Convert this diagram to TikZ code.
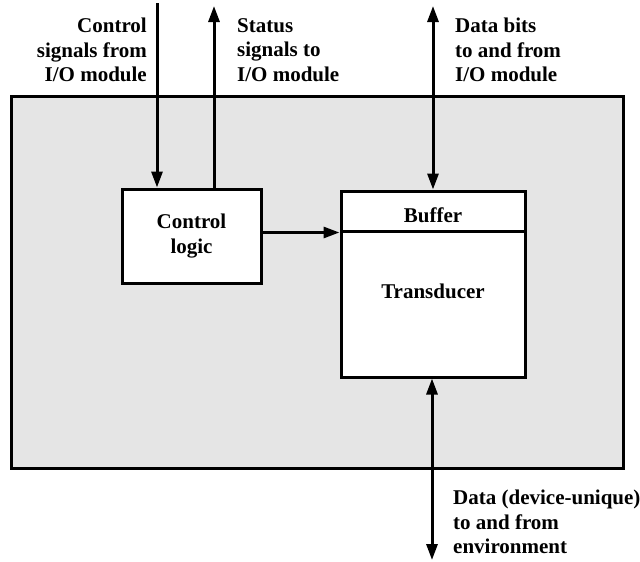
\documentclass[tikz,border=0pt]{standalone}
\usepackage{fontspec}
\setmainfont{Liberation Serif}
\usetikzlibrary{arrows.meta}
\begin{document}
\begin{tikzpicture}[x=1pt,y=-1pt,
  lbl/.style={font=\fontsize{21}{24.5}\selectfont\bfseries, inner sep=0pt},
  boxstyle/.style={draw, line width=3pt, fill=white, inner sep=0pt},
  arr/.style={line width=3pt, -{Triangle[length=16pt,width=11pt]}},
  arrtwo/.style={line width=3pt, {Triangle[length=16pt,width=11pt]}-{Triangle[length=16pt,width=11pt]}}]
\useasboundingbox (0,0) rectangle (640,562);
% outer device frame
\node[draw, line width=3pt, fill=black!10, minimum width=612pt, minimum height=372pt, inner sep=0pt] (frame) at (317,282) {};
% control logic
\node[boxstyle, minimum width=139pt, minimum height=94pt, lbl, align=center] (ctrl) at (191.5,236) {Control\\logic};
% buffer and transducer
\node[boxstyle, minimum width=184pt, minimum height=40pt] (buf) at (433,211) {};
\node[lbl] (buftext) at (433,215) {Buffer};
\node[boxstyle, minimum width=184pt, minimum height=146pt] (trans) at (433,304) {};
\node[lbl] (transtext) at (433,291) {Transducer};
% free ends
\coordinate (cin) at (157,3);
\coordinate (sout) at (214,6);
\coordinate (dtop) at (433,6);
\coordinate (dbot) at (432,560);
% connectors
\draw[arr] (cin) -- (cin |- ctrl.north);
\draw[arr] (ctrl.north -| sout) -- (sout);
\draw[arrtwo] (dtop) -- (dtop |- buf.north);
\draw[arr] (ctrl.east |- buf.south) -- (buf.south west);
\draw[arrtwo] (trans.south -| dbot) -- (dbot);
% labels
\node[lbl, align=right, anchor=east] (l1) at (147,50) {Control\\signals from\\I/O module};
\node[lbl, align=left, anchor=west] (l2) at (237,50) {Status\\signals to\\I/O module};
\node[lbl, align=left, anchor=west] (l3) at (455,50) {Data bits\\to and from\\I/O module};
\node[lbl, align=left, anchor=west] (l4) at (453,522) {Data (device-unique)\\to and from\\environment};
\end{tikzpicture}
\end{document}
